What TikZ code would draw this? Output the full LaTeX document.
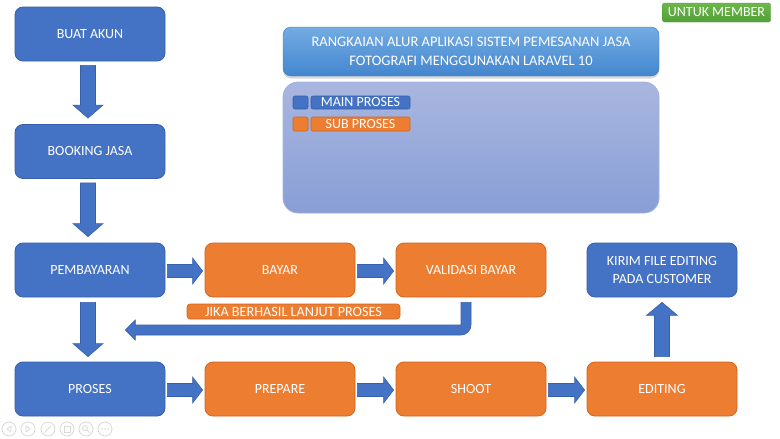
\documentclass[tikz,border=0pt]{standalone}
\usepackage{fontspec}
\setmainfont{Carlito}
\usetikzlibrary{calc,shadows}
\definecolor{mainblue}{HTML}{4472C4}
\definecolor{mainedge}{HTML}{3760AC}
\definecolor{suborange}{HTML}{ED7D31}
\definecolor{subedge}{HTML}{D0661F}
\definecolor{titletop}{HTML}{74ACE3}
\definecolor{titlebot}{HTML}{4386CF}
\definecolor{paneltop}{HTML}{A9B6DF}
\definecolor{panelbot}{HTML}{889ED6}
\definecolor{paneledge}{HTML}{9EB3E4}
\definecolor{greentop}{HTML}{6CB74B}
\definecolor{greenbot}{HTML}{52A036}
\definecolor{icongray}{HTML}{D9D9D9}
\newcommand\blockarr[5]{%
  \coordinate (bac) at ($(#2)!#5!(#1)$);
  \draw[blockarrow] ($(#1)!#3!90:(#2)$) -- ($(bac)!#3!90:(#2)$) -- ($(bac)!#4!90:(#2)$) -- (#2)
    -- ($(bac)!#4!-90:(#2)$) -- ($(bac)!#3!-90:(#2)$) -- ($(#1)!#3!-90:(#2)$) -- cycle;}
\begin{document}
\begin{tikzpicture}[x=1pt,y=-1pt,
  box/.style={rounded corners=8pt, minimum width=150pt, minimum height=54pt, text=white,
    font=\fontsize{14}{17.5}\selectfont, align=center, inner sep=0pt, line width=0.8pt},
  mainbox/.style={box, fill=mainblue, draw=mainedge},
  subbox/.style={box, fill=suborange, draw=subedge},
  blockarrow/.style={fill=mainblue, draw=mainedge, line width=0.6pt, line join=miter},
  legendbox/.style={rounded corners=2pt, line width=0.6pt, inner sep=0pt, text=white,
    font=\fontsize{14}{15}\selectfont},
  icon/.style={draw=icongray, line width=0.8pt}
]
\useasboundingbox (0,0) rectangle (780,439);
\fill[white] (0,0) rectangle (780,439);

% main flow boxes
\node[mainbox] (buat) at (90,34) {BUAT AKUN};
\node[mainbox] (booking) at (90,151.5) {BOOKING JASA};
\node[mainbox] (pembayaran) at (90,270) {PEMBAYARAN};
\node[subbox] (bayar) at (280,270) {BAYAR};
\node[subbox] (validasi) at (471,270) {VALIDASI BAYAR};
\node[mainbox] (kirim) at (662,270) {KIRIM FILE EDITING\\PADA CUSTOMER};
\node[mainbox] (proses) at (90,389) {PROSES};
\node[subbox] (prepare) at (280,389) {PREPARE};
\node[subbox] (shoot) at (471,389) {SHOOT};
\node[subbox] (editing) at (662,389) {EDITING};

% arrow end points
\coordinate (a1s) at ($(buat.south)+(-2,4)$);
\coordinate (a1e) at ($(booking.north)+(-2,-6)$);
\coordinate (a2s) at ($(booking.south)+(-2,4)$);
\coordinate (a2e) at ($(pembayaran.north)+(-2,-6)$);
\coordinate (a3s) at ($(pembayaran.south)+(-2,5)$);
\coordinate (a3e) at ($(proses.north)+(-2,-5)$);
\coordinate (r1s) at ($(pembayaran.east)+(2,1)$);
\coordinate (r1e) at ($(bayar.west)+(-2,1)$);
\coordinate (r2s) at ($(bayar.east)+(2,1)$);
\coordinate (r2e) at ($(validasi.west)+(-2,1)$);
\coordinate (r3s) at ($(proses.east)+(2,1)$);
\coordinate (r3e) at ($(prepare.west)+(-2,1)$);
\coordinate (r4s) at ($(prepare.east)+(2,1)$);
\coordinate (r4e) at ($(shoot.west)+(-2,1)$);
\coordinate (r5s) at ($(shoot.east)+(2,1)$);
\coordinate (r5e) at ($(editing.west)+(-2,1)$);
\coordinate (u1s) at ($(editing.north)+(0,-5)$);
\coordinate (u1e) at ($(kirim.south)+(0,5)$);

\blockarr{a1s}{a1e}{7.5pt}{15pt}{13pt}
\blockarr{a2s}{a2e}{7.5pt}{15pt}{13pt}
\blockarr{a3s}{a3e}{7.5pt}{15pt}{13pt}
\blockarr{r1s}{r1e}{6.5pt}{13pt}{10pt}
\blockarr{r2s}{r2e}{6.5pt}{13pt}{10pt}
\blockarr{r3s}{r3e}{6.5pt}{13pt}{10pt}
\blockarr{r4s}{r4e}{6.5pt}{13pt}{10pt}
\blockarr{r5s}{r5e}{6.5pt}{13pt}{10pt}
\blockarr{u1s}{u1e}{7.5pt}{15.5pt}{13pt}

% bent return arrow
\coordinate (bt) at ($(pembayaran.east)+(-40,60)$);
\draw[blockarrow] ($(validasi.south)+(-10,5)$) -- ($(validasi.south |- bt)+(-10,-5)$)
  -- ($(bt)+(10,-5)$) -- ($(bt)+(10,-10)$) -- (bt) -- ($(bt)+(10,10)$) -- ($(bt)+(10,5)$)
  [rounded corners=10pt] -- ($(validasi.south |- bt)+(0,5)$)
  [sharp corners] -- ($(validasi.south)+(0,5)$) -- cycle;
\node[fill=suborange, draw=subedge, line width=0.6pt, rounded corners=3pt, minimum width=213pt,
  minimum height=15pt, inner sep=0pt, text=white, font=\fontsize{14.2}{15}\selectfont]
  (jika) at (293.5,311.5) {JIKA BERHASIL LANJUT PROSES};

% title and panel
\node[rounded corners=8pt, minimum width=376pt, minimum height=49pt, inner sep=0pt,
  top color=titletop, bottom color=titlebot, draw=titlebot!90!black, line width=0.4pt,
  drop shadow={opacity=0.3, shadow xshift=0pt, shadow yshift=-2.5pt},
  text=white, align=center, font=\fontsize{14.5}{18.5}\selectfont]
  (title) at (471,51.5) {RANGKAIAN ALUR APLIKASI SISTEM PEMESANAN JASA\\FOTOGRAFI MENGGUNAKAN LARAVEL 10};
\node[rounded corners=15pt, minimum width=376pt, minimum height=131pt, inner sep=0pt,
  top color=paneltop, bottom color=panelbot, draw=paneledge, line width=0.8pt]
  (panel) at (471,147.5) {};

% legend
\node[legendbox, fill=mainblue, draw=mainedge, minimum width=15pt, minimum height=13pt] (lsq1) at (300.5,102.5) {};
\node[legendbox, fill=mainblue, draw=mainedge, minimum width=99pt, minimum height=13pt] (lmain) at (360.5,102.5) {MAIN PROSES};
\node[legendbox, fill=suborange, draw=subedge, minimum width=15pt, minimum height=14pt] (lsq2) at (300.5,124) {};
\node[legendbox, fill=suborange, draw=subedge, minimum width=99pt, minimum height=14pt] (lsub) at (360.5,124) {SUB PROSES};

% member tag
\node[rounded corners=2pt, minimum width=108pt, minimum height=19pt, inner sep=0pt,
  top color=greentop, bottom color=greenbot, draw=greenbot, line width=0.4pt, text=white,
  font=\fontsize{14}{15}\selectfont] (member) at (716.5,12.5) {UNTUK MEMBER};

% slideshow controls
\foreach \i/\x in {1/9,2/28,3/48,4/67,5/86,6/105}{
  \node[icon, circle, minimum size=14pt, inner sep=0pt] (ic\i) at (\x,429) {};
}
\draw[icon, line join=round] ($(ic1)+(2,-3)$) -- ($(ic1)+(-2,0)$) -- ($(ic1)+(2,3)$) -- cycle;
\draw[icon, line join=round] ($(ic2)+(-2,-3)$) -- ($(ic2)+(2,0)$) -- ($(ic2)+(-2,3)$) -- cycle;
\draw[icon] ($(ic3)+(-3.5,3.5)$) -- ($(ic3)+(3,-3)$);
\draw[icon] ($(ic4)+(-3,-3)$) rectangle ($(ic4)+(3,3)$);
\draw[icon] ($(ic5)+(-1,-1)$) circle[radius=2.5pt];
\draw[icon] ($(ic5)+(1,1)$) -- ($(ic5)+(3.5,3.5)$);
\foreach \d in {-3,0,3}{\fill[icongray] ($(ic6)+(\d,0)$) circle[radius=0.9pt];}
\end{tikzpicture}
\end{document}
